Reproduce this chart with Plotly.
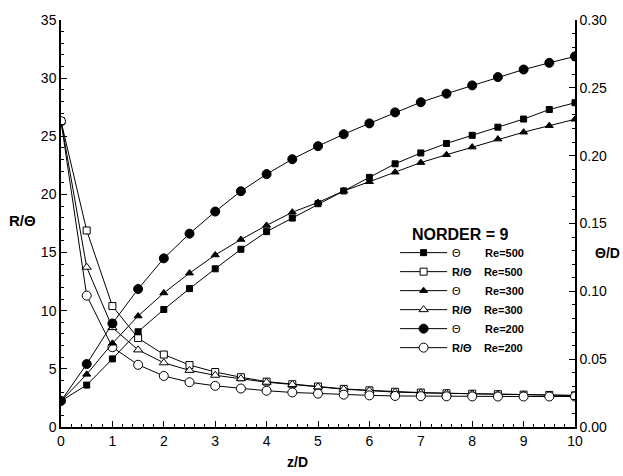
import plotly.graph_objects as go

z = [0, 0.5, 1, 1.5, 2, 2.5, 3, 3.5, 4, 4.5, 5, 5.5, 6, 6.5, 7, 7.5, 8, 8.5, 9, 9.5, 10]

theta_500 = [0.0192, 0.0309, 0.0502, 0.0702, 0.0866, 0.102, 0.1166, 0.131, 0.144, 0.154, 0.1646,
             0.174, 0.184, 0.194, 0.202, 0.209, 0.215, 0.221, 0.227, 0.234, 0.239]
theta_300 = [0.0192, 0.0388, 0.0617, 0.0818, 0.0988, 0.1134, 0.1268, 0.1382, 0.1486, 0.1583, 0.1655,
             0.174, 0.1808, 0.1878, 0.1949, 0.2007, 0.2063, 0.2122, 0.2173, 0.2221, 0.2268]
theta_200 = [0.0192, 0.0464, 0.0763, 0.1017, 0.1243, 0.1425, 0.1588, 0.1738, 0.1864, 0.1974, 0.207,
             0.2158, 0.2238, 0.2319, 0.2394, 0.2457, 0.2518, 0.2579, 0.2635, 0.2684, 0.2732]

rt_500 = [26.3, 16.9, 10.4, 7.65, 6.23, 5.33, 4.73, 4.28, 3.9, 3.68, 3.48,
          3.28, 3.15, 3.03, 2.96, 2.9, 2.86, 2.82, 2.78, 2.76, 2.72]
rt_300 = [26.3, 13.74, 8.55, 6.63, 5.52, 4.87, 4.45, 4.16, 3.85, 3.66, 3.45,
          3.25, 3.13, 3.0, 2.94, 2.89, 2.84, 2.8, 2.77, 2.74, 2.7]
rt_200 = [26.3, 11.3, 6.86, 5.35, 4.39, 3.85, 3.54, 3.31, 3.12, 2.97, 2.87,
          2.78, 2.72, 2.67, 2.65, 2.64, 2.63, 2.62, 2.62, 2.62, 2.62]

NB = "\u00a0"
FONT = "Liberation Sans, Arial, sans-serif"

series = [
    ("Θ" + NB * 8 + "<b>Re=500</b>", theta_500, "y2", "square", "black", 6),
    ("<b>R/Θ</b>" + NB * 4 + "<b>Re=500</b>", rt_500, "y", "square", "white", 7),
    ("Θ" + NB * 8 + "<b>Re=300</b>", theta_300, "y2", "triangle-up", "black", 7),
    ("<b>R/Θ</b>" + NB * 4 + "<b>Re=300</b>", rt_300, "y", "triangle-up", "white", 8),
    ("Θ" + NB * 8 + "<b>Re=200</b>", theta_200, "y2", "circle", "black", 9),
    ("<b>R/Θ</b>" + NB * 4 + "<b>Re=200</b>", rt_200, "y", "circle", "white", 9),
]

fig = go.Figure()
for name, vals, ax, sym, fill, size in series:
    fig.add_trace(go.Scatter(
        x=z, y=vals, yaxis=ax, name=name, mode="lines+markers",
        line=dict(color="black", width=1),
        marker=dict(symbol=sym, size=size, color=fill, line=dict(color="black", width=1)),
    ))

axis_common = dict(
    showgrid=False, zeroline=False, showline=True, linecolor="black", linewidth=1.5,
    ticks="inside", ticklen=6, tickwidth=1, tickcolor="black",
    tickfont=dict(family=FONT, size=14, color="black"),
)

fig.update_layout(
    width=623, height=476,
    margin=dict(l=61, r=48, t=14, b=49),
    paper_bgcolor="white", plot_bgcolor="white",
    showlegend=True,
    legend=dict(
        x=0.650, y=0.464, xanchor="left", yanchor="top",
        bgcolor="rgba(0,0,0,0)", borderwidth=0,
        font=dict(family=FONT, size=11, color="black"),
        tracegroupgap=0, itemwidth=47,
    ),
    xaxis=dict(range=[0, 10], dtick=1, tick0=0,
               minor=dict(dtick=0.2, ticks="inside", ticklen=3, tickcolor="black"),
               **axis_common),
    yaxis=dict(range=[0, 35], dtick=5, tick0=0,
               minor=dict(dtick=1, ticks="inside", ticklen=3, tickcolor="black"),
               **axis_common),
    yaxis2=dict(range=[0, 0.30], dtick=0.05, tick0=0, tickformat=".2f",
                overlaying="y", side="right",
                minor=dict(dtick=0.01, ticks="inside", ticklen=3, tickcolor="black"),
                **axis_common),
    annotations=[
        dict(text="<b>NORDER = 9</b>", x=460, y=232, showarrow=False,
             font=dict(family=FONT, size=16, color="black")),
        dict(text="<b>R/Θ</b>", x=22, y=217, showarrow=False,
             font=dict(family=FONT, size=15, color="black")),
        dict(text="<b>Θ/D</b>", x=607, y=250, showarrow=False,
             font=dict(family=FONT, size=14, color="black")),
        dict(text="<b>z/D</b>", x=297, y=463, showarrow=False,
             font=dict(family=FONT, size=14, color="black")),
    ],
)

# convert pixel-positioned annotations to paper coordinates
W, H = 623, 476
L, R, T, B = 61, 48, 14, 49
pw, ph = W - L - R, H - T - B
anns = []
for a in fig.layout.annotations:
    a = a.to_plotly_json()
    a["xref"] = "paper"
    a["yref"] = "paper"
    a["x"] = (a["x"] - L) / pw
    a["y"] = (H - B - a["y"]) / ph
    a["xanchor"] = "center"
    a["yanchor"] = "middle"
    anns.append(a)
fig.update_layout(annotations=anns)

fig.write_html("out.html")
